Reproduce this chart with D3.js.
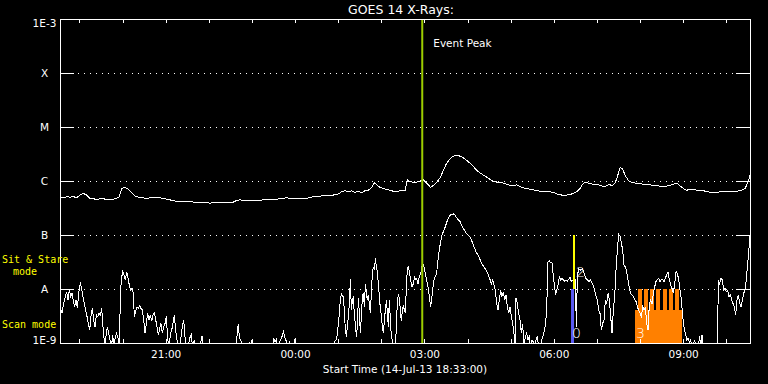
<!DOCTYPE html>
<html>
<head>
<meta charset="utf-8">
<title>GOES 14 X-Rays</title>
<style>
    body { margin: 0; background: #000; }
    svg { display: block; }
    text { font-family: "DejaVu Sans", sans-serif; font-size: 10.5px; fill: #fff; }
</style>
</head>
<body>
<svg id="chart"></svg>
<script src="https://cdnjs.cloudflare.com/ajax/libs/d3/7.8.5/d3.min.js"></script>
<script>

var w = 768;
var h = 384;

// GOES class levels on the log axis
var levelFlux = [1e-9, 1e-8, 1e-7, 1e-6, 1e-5, 1e-4, 1e-3];
var levelLabels = ["1E-9", "A", "B", "C", "M", "X", "1E-3"];

var startTime = new Date(Date.UTC(2013, 6, 14, 18, 33, 0));
var spanMinutes = 960;
var eventPeak = 504; // minutes after start

// [minutes after start, log10 flux W/m^2] -- 1-8 A channel
var longWave = [[0,-6.30],[4.6,-6.31],[9.3,-6.29],[13.9,-6.30],[18.6,-6.29],[23.2,-6.31],[27.8,-6.26],[32.5,-6.23],[37.1,-6.26],[41.7,-6.32],[46.4,-6.33],[51.0,-6.34],[55.7,-6.33],[60.3,-6.33],[64.9,-6.34],[69.6,-6.35],[74.2,-6.34],[78.8,-6.32],[82.6,-6.29],[85.8,-6.14],[90.4,-6.12],[95.1,-6.15],[99.7,-6.22],[104.4,-6.28],[109.0,-6.30],[113.6,-6.31],[120.6,-6.32],[127.5,-6.31],[134.5,-6.30],[139.1,-6.31],[146.1,-6.33],[153.1,-6.35],[160.0,-6.37],[167.0,-6.38],[173.9,-6.38],[180.9,-6.38],[185.5,-6.39],[194.8,-6.39],[204.1,-6.40],[208.7,-6.41],[213.3,-6.40],[222.6,-6.40],[231.9,-6.40],[241.2,-6.39],[245.8,-6.36],[250.5,-6.35],[257.4,-6.36],[264.4,-6.36],[273.6,-6.36],[282.9,-6.35],[289.9,-6.35],[296.8,-6.34],[306.1,-6.33],[315.4,-6.31],[324.7,-6.33],[333.9,-6.33],[343.2,-6.32],[352.5,-6.29],[361.8,-6.28],[371.0,-6.27],[380.3,-6.26],[387.3,-6.24],[391.9,-6.20],[396.5,-6.18],[401.2,-6.20],[405.8,-6.18],[410.5,-6.21],[415.1,-6.19],[419.7,-6.22],[424.4,-6.18],[429.0,-6.17],[433.7,-6.12],[436.9,-6.03],[440.6,-6.07],[445.2,-6.12],[452.2,-6.15],[459.1,-6.17],[466.1,-6.20],[473.1,-6.18],[480.0,-6.18],[483.3,-5.98],[487.0,-6.01],[493.9,-6.03],[500.9,-6.00],[505.5,-5.98],[510.2,-6.04],[515.7,-6.12],[520.4,-6.07],[525.0,-6.01],[529.7,-5.92],[533.4,-5.80],[538.0,-5.67],[542.6,-5.59],[547.3,-5.54],[551.9,-5.52],[556.6,-5.54],[561.2,-5.57],[565.8,-5.62],[570.5,-5.67],[575.1,-5.73],[579.7,-5.80],[584.4,-5.85],[589.0,-5.89],[593.7,-5.93],[598.3,-5.97],[602.9,-6.00],[607.6,-6.02],[614.5,-6.03],[621.5,-6.06],[628.4,-6.09],[635.4,-6.07],[640.0,-6.10],[647.0,-6.14],[653.9,-6.15],[660.9,-6.17],[667.9,-6.19],[674.8,-6.20],[681.8,-6.20],[686.4,-6.21],[691.1,-6.24],[698.0,-6.26],[705.0,-6.26],[711.9,-6.24],[718.9,-6.20],[723.5,-6.14],[727.2,-6.06],[730.5,-6.02],[735.1,-6.04],[742.1,-6.06],[749.0,-6.07],[756.0,-6.10],[760.6,-6.09],[764.3,-6.06],[767.6,-6.09],[772.2,-6.04],[775.5,-5.92],[779.2,-5.75],[782.9,-5.78],[786.1,-5.89],[790.8,-5.99],[795.4,-6.03],[802.4,-6.04],[811.6,-6.06],[820.9,-6.07],[830.2,-6.09],[839.5,-6.10],[846.4,-6.09],[853.4,-6.06],[858.0,-6.04],[862.7,-6.09],[867.3,-6.14],[871.9,-6.17],[878.9,-6.15],[885.8,-6.17],[895.1,-6.18],[904.4,-6.21],[911.3,-6.22],[918.3,-6.20],[927.6,-6.20],[936.9,-6.20],[946.1,-6.18],[953.1,-6.14],[957.7,-6.01],[960.0,-5.89]];

// [minutes after start, log10 flux W/m^2] -- 0.5-4 A channel (-9.1 = below range)
var shortWave = [[0,-8.33],[2.8,-8.45],[5.1,-8.27],[7.4,-8.14],[9.3,-8.05],[11.1,-8.20],[13.0,-8.02],[14.8,-8.14],[16.7,-8.08],[18.6,-8.23],[20.4,-8.33],[22.3,-8.20],[24.1,-8.36],[26.0,-8.08],[28.3,-7.88],[30.1,-7.99],[32.0,-8.14],[33.9,-8.27],[35.7,-8.39],[37.6,-8.51],[39.4,-8.64],[41.3,-8.76],[43.1,-8.51],[45.0,-8.36],[46.8,-8.57],[48.7,-8.70],[50.6,-8.48],[52.4,-8.51],[54.3,-8.45],[56.1,-8.48],[58.0,-8.36],[59.4,-8.64],[60.8,-8.82],[62.1,-9.1],[64.0,-8.88],[65.9,-8.70],[67.7,-8.82],[69.6,-8.94],[71.4,-9.1],[73.3,-8.85],[75.1,-9.1],[77.0,-8.88],[78.8,-8.82],[80.7,-8.91],[82.6,-9.1],[84.0,-8.11],[85.3,-7.83],[87.2,-7.68],[89.1,-7.74],[90.9,-7.83],[92.8,-7.68],[94.6,-7.80],[96.5,-7.93],[98.3,-8.02],[100.2,-7.99],[102.0,-8.08],[103.4,-8.51],[105.3,-8.42],[107.1,-8.33],[109.0,-8.36],[110.9,-8.31],[112.7,-8.36],[114.6,-8.39],[116.4,-8.57],[118.3,-8.82],[120.1,-8.64],[122.0,-8.45],[123.8,-8.57],[125.7,-8.48],[127.5,-8.60],[129.4,-8.48],[131.3,-8.44],[133.1,-8.57],[135.0,-8.70],[136.8,-8.85],[138.7,-8.73],[140.5,-8.64],[142.4,-8.82],[144.2,-8.70],[146.1,-8.64],[147.9,-8.51],[149.8,-8.91],[151.7,-9.1],[153.5,-8.85],[155.4,-8.76],[157.2,-8.64],[159.1,-8.48],[160.9,-8.76],[162.8,-8.94],[164.6,-9.1],[166.5,-9.1],[168.4,-8.88],[170.2,-8.70],[172.1,-8.57],[173.9,-8.88],[175.8,-9.1],[178.1,-9.1],[180.4,-8.91],[182.7,-8.85],[184.6,-9.1],[186.9,-8.94],[188.8,-9.1],[194.3,-9.1],[197.6,-8.87],[199.0,-9.1],[205.9,-9.1],[208.2,-8.94],[209.6,-9.1],[245.3,-9.1],
[246.8,-8.76],[248.1,-8.65],[249.5,-8.88],[250.9,-8.94],[252.8,-8.98],[255.1,-9.1],[262.1,-9.1],[263.5,-8.98],[265.3,-9.1],[267.2,-8.94],[268.6,-9.1],[295.9,-9.1],[297.3,-8.90],[299.2,-8.98],[301.0,-8.93],[302.9,-9.1],[305.2,-8.98],[307.0,-8.94],[308.9,-8.88],[310.8,-8.79],[312.1,-8.85],[313.5,-8.93],[315.4,-8.98],[317.2,-9.1],[319.1,-8.97],[321.0,-9.1],[323.7,-9.1],[326.1,-8.98],[327.5,-8.90],[328.8,-9.1],[379.4,-9.1],[381.7,-8.98],[384.0,-8.94],[385.4,-8.88],[386.8,-8.70],[388.2,-8.51],[390.1,-8.20],[391.5,-8.08],[392.9,-8.14],[394.2,-8.14],[395.6,-8.39],[397.0,-8.76],[398.4,-8.88],[399.8,-8.70],[401.2,-8.51],[402.6,-8.27],[404.0,-7.81],[405.4,-8.39],[406.8,-8.20],[408.2,-8.14],[409.5,-8.48],[410.9,-8.64],[412.3,-8.88],[413.7,-8.70],[415.1,-8.17],[416.5,-8.45],[417.9,-8.82],[419.3,-8.51],[420.7,-8.14],[422.1,-8.08],[423.5,-8.33],[424.9,-7.90],[426.2,-8.08],[427.6,-8.20],[429.0,-8.11],[430.4,-8.27],[431.8,-8.45],[433.2,-8.08],[434.6,-7.71],[436.0,-7.59],[437.4,-7.65],[438.8,-7.43],[440.2,-7.59],[441.5,-7.68],[442.9,-7.90],[444.3,-8.14],[445.7,-8.36],[447.1,-8.48],[448.5,-8.70],[449.9,-8.82],[451.3,-8.57],[452.7,-8.39],[454.1,-8.20],[455.5,-8.45],[456.8,-8.70],[458.2,-8.20],[459.6,-8.57],[461.0,-8.88],[462.4,-8.94],[463.8,-9.1],[466.6,-9.1],[468.0,-8.70],[469.4,-8.20],[470.8,-8.11],[472.2,-8.17],[473.5,-8.39],[474.9,-8.60],[476.3,-8.39],[477.7,-8.30],[479.1,-8.39],[480.5,-8.45],[481.9,-7.96],[483.3,-7.62],[484.7,-7.59],[486.1,-7.68],[487.9,-7.83],[489.8,-7.96],[491.6,-7.90],[493.5,-7.77],
[494.4,-7.83],[496.2,-7.80],[498.1,-7.90],[499.9,-7.77],[501.8,-7.71],[504.6,-7.52],[506.4,-7.59],[508.3,-7.71],[510.1,-7.83],[512.0,-7.96],[513.8,-8.14],[515.7,-8.33],[517.1,-8.20],[518.5,-8.02],[520.3,-7.83],[522.2,-7.76],[524.0,-7.71],[525.9,-7.46],[527.7,-7.28],[529.6,-7.12],[531.5,-7.00],[533.3,-6.94],[535.2,-6.88],[537.0,-6.81],[538.9,-6.73],[540.7,-6.67],[542.6,-6.64],[544.4,-6.62],[547.2,-6.61],[549.1,-6.62],[550.9,-6.66],[553.7,-6.71],[556.5,-6.75],[559.3,-6.83],[562.1,-6.90],[564.9,-6.96],[567.6,-7.00],[570.4,-7.04],[573.2,-7.12],[576.0,-7.22],[578.8,-7.31],[581.5,-7.37],[584.3,-7.45],[587.1,-7.54],[589.9,-7.59],[592.7,-7.65],[595.5,-7.72],[598.2,-7.82],[600.1,-7.90],[602.0,-7.83],[603.8,-7.93],[605.7,-8.02],[607.5,-8.27],[609.4,-8.39],[611.2,-8.20],[613.1,-8.02],[614.9,-8.14],[616.8,-8.05],[618.7,-8.20],[620.5,-8.11],[622.4,-8.33],[624.2,-8.45],[626.1,-8.33],[627.9,-8.51],[629.8,-8.64],[631.6,-8.82],[633.0,-9.1],[634.4,-8.17],[636.3,-8.27],[638.1,-8.45],[640.0,-8.57],[641.8,-8.82],[643.7,-8.64],[645.6,-9.1],[647.4,-8.88],[649.3,-8.82],[651.1,-8.94],[653.0,-8.88],[654.8,-9.1],[656.7,-8.94],[658.5,-8.98],[660.4,-9.1],[662.2,-8.94],[664.1,-8.87],[666.0,-9.1],[668.7,-9.1],[670.6,-8.93],[672.5,-8.85],[674.3,-8.76],[676.2,-8.54],[677.6,-8.14],[679.0,-7.49],[680.8,-7.48],[682.7,-7.51],[684.5,-7.52],[686.4,-7.77],[688.2,-7.96],[689.6,-8.11],[691.0,-8.02],[692.9,-7.93],[694.7,-7.77],[696.6,-7.83],[698.4,-7.80],[700.3,-7.83],[702.1,-7.86],[704.0,-7.83],[705.8,-7.86],[707.7,-7.82],[709.6,-7.78],[711.4,-7.86],[714.2,-7.83],[717.0,-7.83],[718.4,-8.70],[719.8,-7.77],[721.6,-7.62],[724.4,-7.65],[726.7,-7.62],[729.0,-7.70],[731.3,-7.80],[733.7,-7.83],[736.0,-7.86],[738.3,-7.83],[740.6,-7.90],
[742.1,-7.94],[743.9,-8.02],[745.8,-8.14],[747.6,-8.20],[749.5,-8.39],[751.3,-8.45],[753.2,-8.76],[755.0,-8.64],[756.9,-8.57],[758.8,-8.20],[760.6,-8.27],[762.5,-8.08],[764.3,-8.20],[766.2,-8.51],[768.0,-8.82],[769.9,-8.39],[771.7,-8.14],[773.6,-7.65],[775.4,-7.28],[777.3,-6.99],[779.2,-7.02],[781.0,-7.15],[782.9,-7.28],[784.7,-7.56],[786.6,-7.59],[788.4,-7.68],[790.3,-7.83],[792.1,-7.99],[794.0,-8.08],[795.9,-8.11],[797.7,-8.14],[799.6,-8.20],[801.4,-8.23],[803.3,-8.33],[805.1,-8.39],[807.0,-8.45],[808.8,-8.51],[810.7,-8.33],[812.6,-8.39],[814.4,-8.33],[816.3,-8.64],[818.1,-8.76],[820.0,-8.27],[821.8,-8.20],[823.7,-8.27],[825.5,-8.08],[827.4,-7.96],[829.2,-7.86],[831.1,-7.83],[833.0,-7.80],[834.8,-7.86],[836.7,-7.82],[838.5,-7.83],[840.4,-7.86],[842.2,-7.80],[844.1,-7.74],[845.9,-7.68],[847.8,-7.83],[849.7,-7.93],[851.5,-7.99],[853.4,-8.08],[855.2,-7.90],[857.1,-7.68],[858.9,-7.71],[860.8,-7.83],[862.6,-8.02],[864.5,-8.20],[866.3,-8.51],[868.2,-8.70],[870.1,-8.82],[871.9,-8.94],[873.8,-8.91],[875.6,-8.98],[877.5,-8.94],[879.3,-9.1],[883.0,-8.94],[884.9,-9.1],[887.7,-9.1],[890.0,-8.88],[891.4,-9.1],[893.3,-8.85],[894.6,-9.1],[914.6,-9.1],[916.0,-7.83],[917.8,-7.90],[919.7,-7.80],[921.5,-7.83],[923.4,-8.02],[925.3,-7.99],[927.1,-8.05],[929.0,-8.02],[930.8,-8.14],[932.7,-8.11],[934.5,-8.20],[936.4,-8.27],[938.2,-8.33],[940.1,-8.48],[941.9,-8.20],[943.8,-8.11],[945.7,-8.27],[947.5,-8.33],[949.4,-8.20],[951.2,-8.08],[953.1,-8.02],[954.9,-7.83],[956.8,-7.52],[958.6,-7.25],[960.0,-7.00]];

// observations: id, mode, start / end (minutes after start)
var obsIds = ["0", "2", "3"];
var obsMode = ["scan", "sit", "scan"];
var obsStart = [711, 713.7, 800];
var obsEnd = [715, 716.5, 865.4];
var obs3Level = 4.1e-9;
// individual rasters of observation 3
var rasterStart = [804.2, 812.6, 820.9, 829.7, 838.5, 846.9, 855.2];
var rasterEnd = [809.8, 818.1, 826.5, 834.8, 844.1, 852.4, 861.7];

var obsFill = { "0": "#5a5af2", "2": "#ffff00", "3": "#ff8000" };

function at(m) {
    return new Date(startTime.getTime() + m * 60000);
}

var xScale = d3.scaleUtc()
               .domain([startTime, at(spanMinutes)])
               .range([60, 750]);

var yScale = d3.scaleLog()
               .domain([1e-9, 1e-3])
               .range([343, 19]);

var svg = d3.select("#chart")
            .attr("width", w)
            .attr("height", h);

svg.append("rect")
    .attr("width", w)
    .attr("height", h)
    .attr("fill", "#000");

svg.append("defs").append("clipPath")
    .attr("id", "plot")
    .append("rect")
    .attr("x", 60)
    .attr("y", 19)
    .attr("width", 691)
    .attr("height", 325);

// dotted class lines
svg.selectAll("line.grid")
    .data(levelFlux.slice(1, 6))
    .enter()
    .append("line")
    .attr("class", "grid")
    .attr("x1", 78)
    .attr("x2", 736)
    .attr("y1", function(d) { return yScale(d) + 0.5; })
    .attr("y2", function(d) { return yScale(d) + 0.5; })
    .attr("stroke", "#fff")
    .attr("stroke-dasharray", "1,5")
    .attr("shape-rendering", "crispEdges");

// observation bars (behind curves)
var bands = { scan: [1e-9, 1e-8], sit: [1e-8, 1e-7] };

svg.append("rect")
    .attr("x", xScale(at(obsStart[2])))
    .attr("width", xScale(at(obsEnd[2])) - xScale(at(obsStart[2])))
    .attr("y", yScale(obs3Level))
    .attr("height", yScale(1e-9) - yScale(obs3Level))
    .attr("fill", obsFill["3"])
    .attr("shape-rendering", "crispEdges");

svg.selectAll("rect.raster")
    .data(rasterStart)
    .enter()
    .append("rect")
    .attr("class", "raster")
    .attr("x", function(d) { return xScale(at(d)); })
    .attr("width", function(d, i) { return xScale(at(rasterEnd[i])) - xScale(at(d)); })
    .attr("y", yScale(1e-8))
    .attr("height", yScale(obs3Level) - yScale(1e-8))
    .attr("fill", obsFill["3"])
    .attr("shape-rendering", "crispEdges");

var plot = svg.append("g").attr("clip-path", "url(#plot)");

var line = d3.line()
    .x(function(d) { return xScale(at(d[0])); })
    .y(function(d) { return yScale(Math.pow(10, d[1])); });

plot.append("path")
    .datum(longWave)
    .attr("d", line)
    .attr("fill", "none")
    .attr("stroke", "#fff")
    .attr("stroke-width", 1)
    .attr("shape-rendering", "crispEdges");

plot.append("path")
    .datum(shortWave)
    .attr("d", line)
    .attr("fill", "none")
    .attr("stroke", "#fff")
    .attr("stroke-width", 1)
    .attr("shape-rendering", "crispEdges");

// short observations 0 and 2
svg.selectAll("rect.obs")
    .data([0, 1])
    .enter()
    .append("rect")
    .attr("class", "obs")
    .attr("x", function(i) { return xScale(at(obsStart[i])); })
    .attr("width", function(i) { return xScale(at(obsEnd[i])) - xScale(at(obsStart[i])); })
    .attr("y", function(i) { return yScale(bands[obsMode[i]][1]); })
    .attr("height", function(i) { return yScale(bands[obsMode[i]][0]) - yScale(bands[obsMode[i]][1]); })
    .attr("fill", function(i) { return obsFill[obsIds[i]]; })
    .attr("shape-rendering", "crispEdges");

svg.selectAll("text.obs")
    .data(obsIds)
    .enter()
    .append("text")
    .attr("class", "obs")
    .attr("x", function(d, i) { return xScale(at(obsStart[i])) + (obsMode[i] == "sit" ? 3 : 1); })
    .attr("y", function(d, i) { return yScale(bands[obsMode[i]][0]) - (obsMode[i] == "sit" ? 12 : 5); })
    .style("font-size", "14px")
    .style("font-weight", "200")
    .text(function(d) { return d; });

// event peak marker
svg.append("rect")
    .attr("x", xScale(at(eventPeak)) - 1)
    .attr("width", 2)
    .attr("y", 19)
    .attr("height", 325)
    .attr("fill", "#9ccc00");

svg.append("text")
    .attr("x", xScale(at(eventPeak)) + 11)
    .attr("y", 46.5)
    .text("Event Peak");

// frame
svg.append("rect")
    .attr("x", 60.5)
    .attr("y", 19.5)
    .attr("width", 690)
    .attr("height", 324)
    .attr("fill", "none")
    .attr("stroke", "#fff")
    .attr("shape-rendering", "crispEdges");

// v7 axes
var hours = d3.utcHour.every(1);

svg.append("g")
    .attr("class", "axis")
    .attr("transform", "translate(0,19)")
    .call(d3.axisTop(xScale).ticks(hours).tickSize(-4).tickSizeOuter(0).tickFormat(""))
    .call(function(g) { g.select(".domain").remove(); });

svg.append("g")
    .attr("class", "axis")
    .attr("transform", "translate(0,343)")
    .call(d3.axisBottom(xScale).ticks(hours).tickSize(-4).tickSizeOuter(0).tickFormat(""))
    .call(function(g) { g.select(".domain").remove(); });

svg.append("g")
    .attr("class", "axis")
    .attr("transform", "translate(0,343)")
    .call(d3.axisBottom(xScale).ticks(d3.utcHour.every(3)).tickSize(0).tickPadding(8)
             .tickFormat(d3.utcFormat("%H:%M")))
    .call(function(g) { g.select(".domain").remove(); });

svg.append("g")
    .attr("class", "axis")
    .attr("transform", "translate(60,0)")
    .call(d3.axisLeft(yScale).tickValues(levelFlux).tickSize(-14).tickSizeOuter(0)
             .tickFormat(function(d, i) { return levelLabels[i]; }))
    .call(function(g) {
        g.select(".domain").remove();
        g.selectAll("text")
            .attr("x", -15.5)
            .attr("text-anchor", "middle")
            .attr("dy", function(d, i) {
                if (i == 0) return "0em";
                if (i == levelFlux.length - 1) return "0.72em";
                return "0.36em";
            });
    });

svg.append("g")
    .attr("class", "axis")
    .attr("transform", "translate(750,0)")
    .call(d3.axisRight(yScale).tickValues(levelFlux).tickSize(-14).tickSizeOuter(0).tickFormat(""))
    .call(function(g) { g.select(".domain").remove(); });

svg.selectAll(".axis").attr("color", "#fff");
svg.selectAll(".axis line").attr("shape-rendering", "crispEdges");

// titles
svg.append("text")
    .attr("x", 401)
    .attr("y", 14)
    .attr("text-anchor", "middle")
    .style("font-size", "12.5px")
    .text("GOES 14 X-Rays:");

svg.append("text")
    .attr("x", 405)
    .attr("y", 373)
    .attr("text-anchor", "middle")
    .text("Start Time (14-Jul-13 18:33:00)");

// mode legend
var modeLegend = [["Sit & Stare", 2, 263], ["mode", 13, 275], ["Scan mode", 2, 328]];
svg.selectAll("text.mode")
    .data(modeLegend)
    .enter()
    .append("text")
    .attr("class", "mode")
    .attr("x", function(d) { return d[1]; })
    .attr("y", function(d) { return d[2]; })
    .style("fill", "#ffff00")
    .style("font-family", "'DejaVu Sans Mono', monospace")
    .style("font-size", "10px")
    .text(function(d) { return d[0]; });

</script>
</body>
</html>
